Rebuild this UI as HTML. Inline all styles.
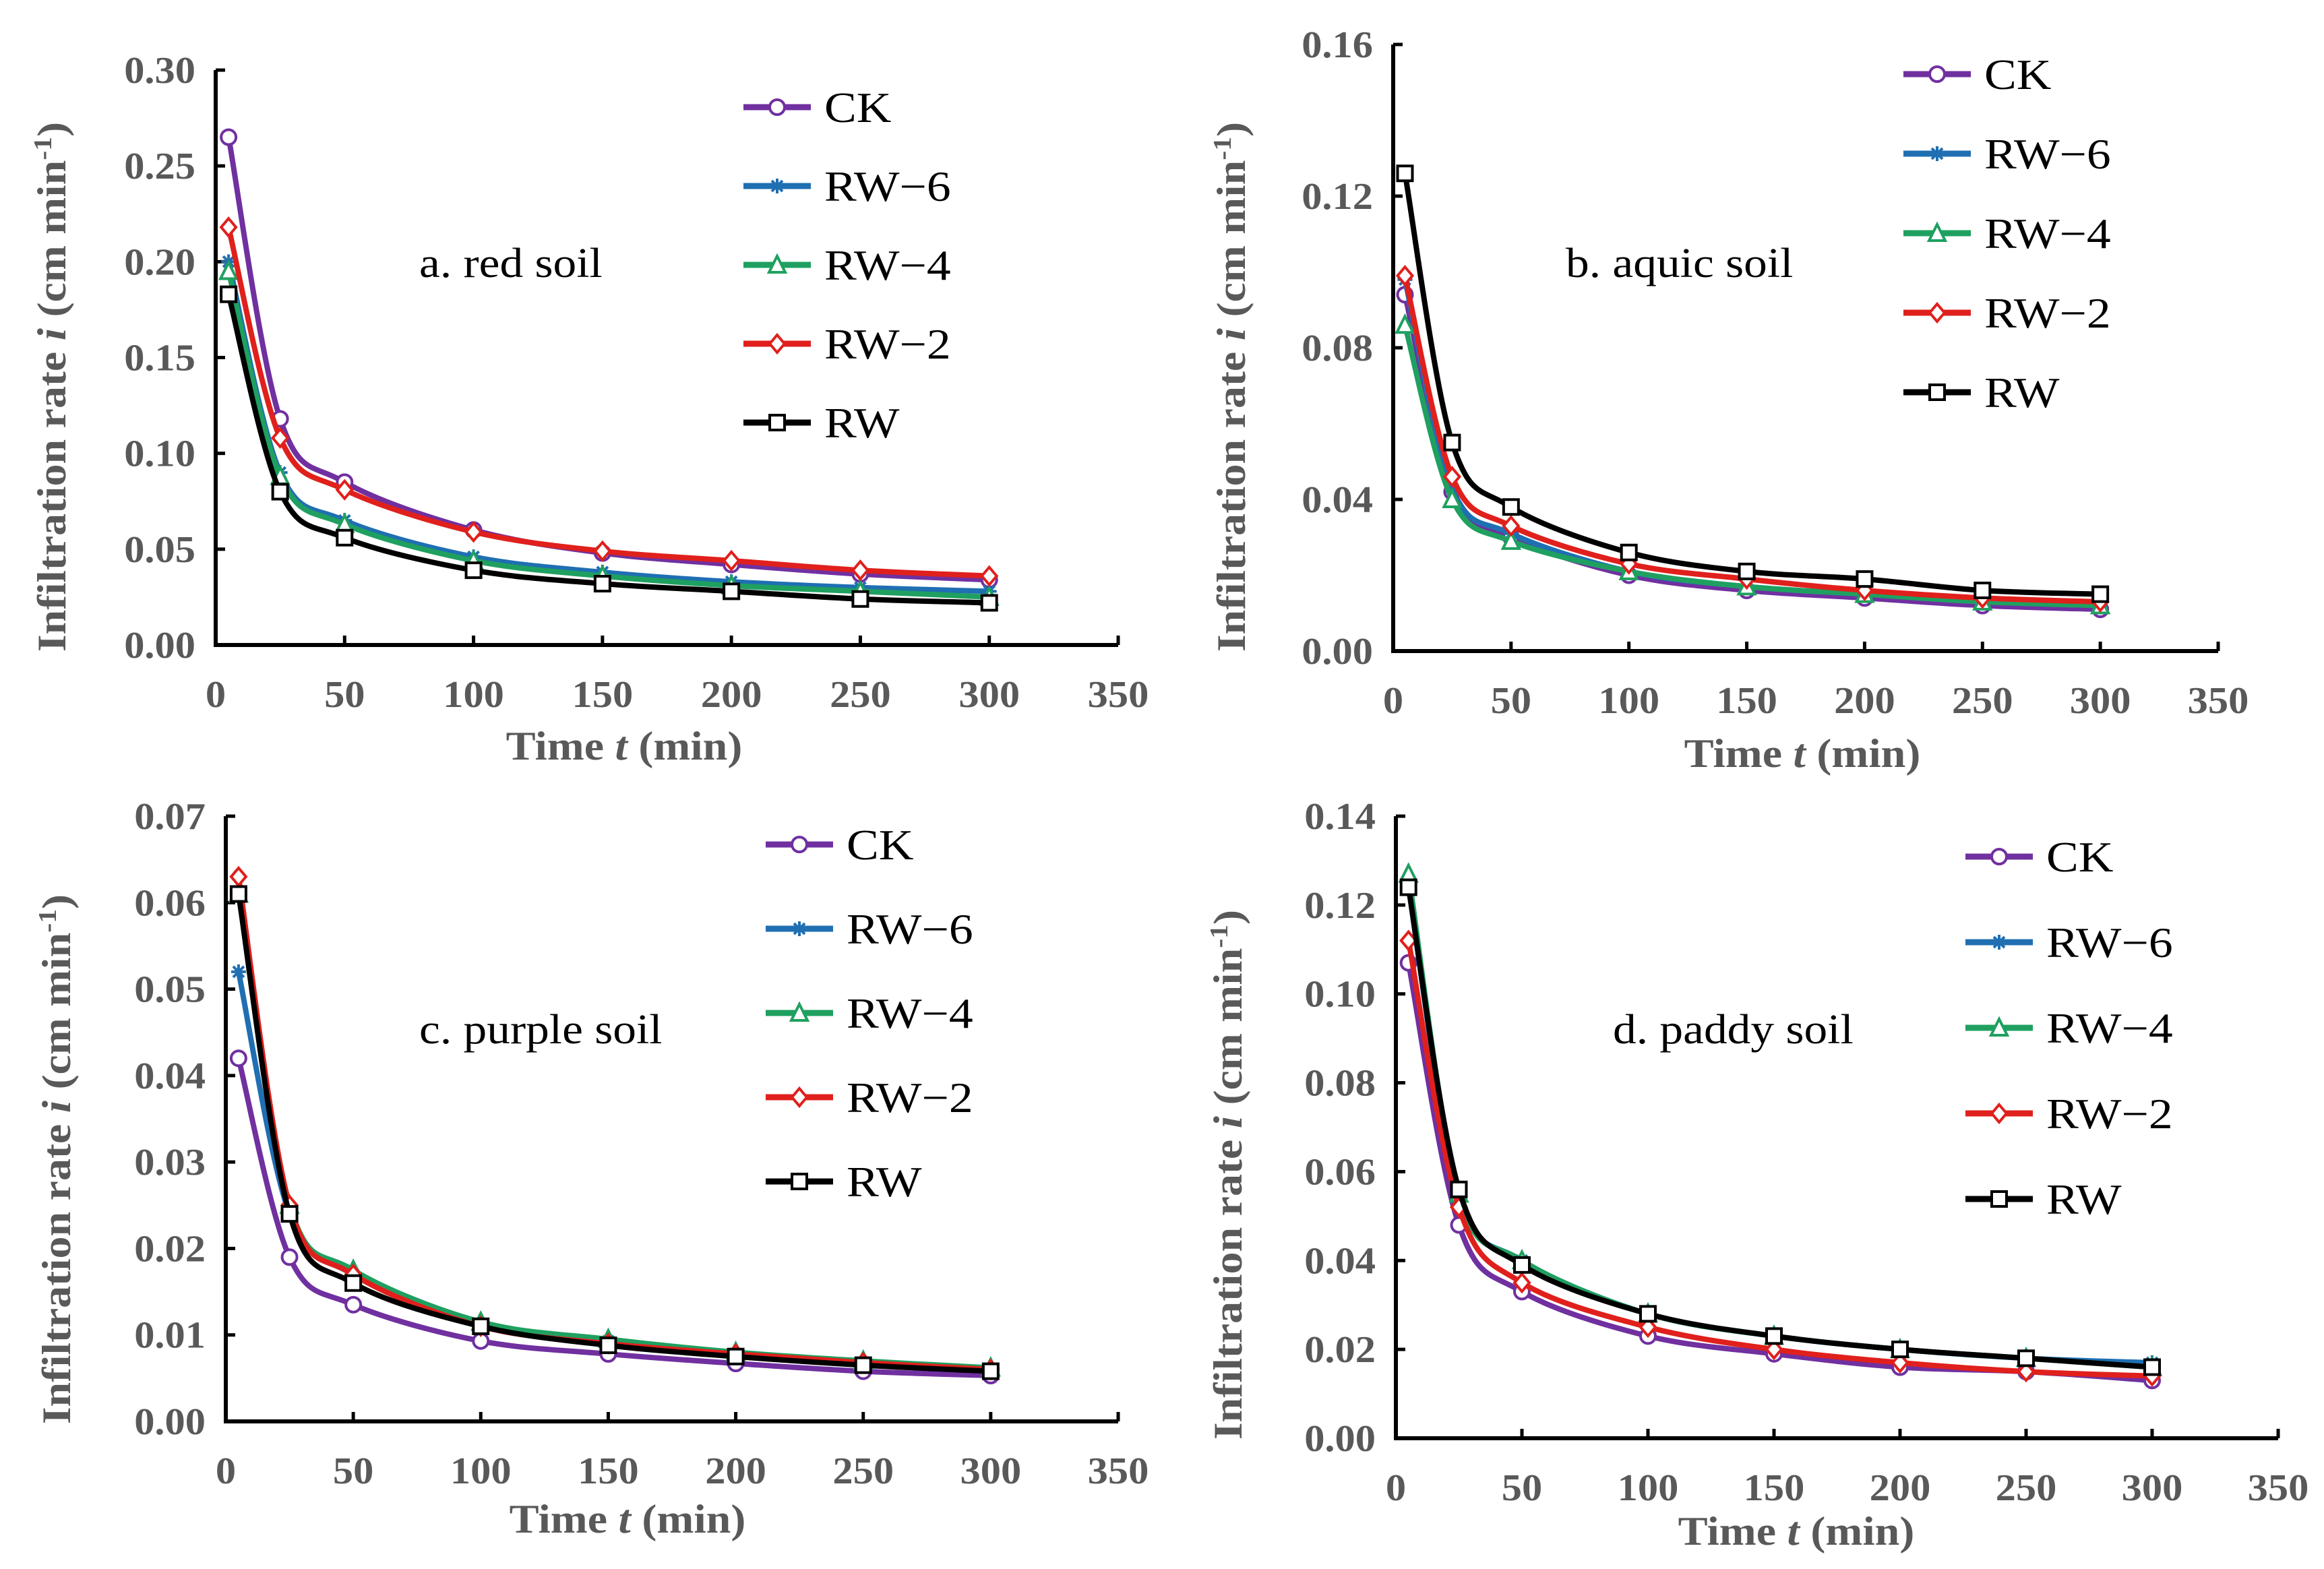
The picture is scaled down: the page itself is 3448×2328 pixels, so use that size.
<!DOCTYPE html>
<html><head><meta charset="utf-8"><style>
html,body{margin:0;padding:0;background:#fff;}
svg{display:block;}
</style></head><body>
<svg id="chart" width="3448" height="2328" viewBox="0 0 3448 2328" xmlns="http://www.w3.org/2000/svg"></svg>
<script>
const times = [5, 25, 50, 100, 150, 200, 250, 300];
const seriesNames = ["CK", "RW\u22126", "RW\u22124", "RW\u22122", "RW"];
const xTicks = [0, 50, 100, 150, 200, 250, 300, 350];
const ticksA = ["0.00","0.05","0.10","0.15","0.20","0.25","0.30"];
const ticksB = ["0.00","0.04","0.08","0.12","0.16"];
const ticksC = ["0.00","0.01","0.02","0.03","0.04","0.05","0.06","0.07"];
const ticksD = ["0.00","0.02","0.04","0.06","0.08","0.10","0.12","0.14"];
const redCK  = [.265,.118,.085,.060,.048,.042,.037,.034];
const redRW6 = [.200,.090,.065,.046,.038,.033,.030,.028];
const redRW4 = [.195,.088,.063,.044,.036,.031,.028,.025];
const redRW2 = [.218,.108,.081,.059,.049,.044,.039,.036];
const redRW  = [.183,.080,.056,.039,.032,.028,.024,.022];
const aqCK  = [.094,.042,.030,.020,.016,.014,.012,.011];
const aqRW6 = [.098,.043,.031,.021,.017,.015,.013,.012];
const aqRW4 = [.086,.040,.029,.021,.017,.015,.013,.012];
const aqRW2 = [.099,.046,.033,.023,.019,.016,.014,.013];
const aqRW  = [.126,.055,.038,.026,.021,.019,.016,.015];
const puCK  = [.042,.019,.0135,.0093,.0078,.0067,.0058,.0053];
const puRW6 = [.052,.024,.017,.011,.0093,.0078,.0068,.006];
const puRW4 = [.061,.025,.0175,.0115,.0095,.008,.007,.0062];
const puRW2 = [.063,.025,.017,.011,.009,.0078,.0068,.006];
const puRW  = [.061,.024,.016,.011,.0088,.0075,.0065,.0058];
const paCK  = [.107,.048,.033,.023,.019,.016,.015,.013];
const paRW6 = [.124,.055,.040,.028,.023,.020,.018,.017];
const paRW4 = [.127,.055,.040,.028,.023,.020,.018,.016];
const paRW2 = [.112,.052,.035,.025,.020,.017,.015,.014];
const paRW  = [.124,.056,.039,.028,.023,.020,.018,.016];

const colors = ["#7030a0","#1f6fb2","#1fa060","#e0201c","#000000"];
const markers = ["circle","star","tri","diamond","square"];
const NS = "http://www.w3.org/2000/svg";
const svg = document.getElementById("chart");
function el(tag, attrs, parent){const e=document.createElementNS(NS,tag);for(const k in attrs)e.setAttribute(k,attrs[k]);(parent||svg).appendChild(e);return e;}
const serif = '"Liberation Serif", serif';
function txt(parent,x,y,size,anchor,sx,bold,fill,rot){
  const tr = rot ? `translate(${x},${y}) rotate(-90) scale(${sx},1)` : `translate(${x},${y}) scale(${sx},1)`;
  return el("text",{x:0,y:0,transform:tr,"text-anchor":anchor,"font-family":serif,"font-weight":bold?"bold":"normal","font-size":size,fill:fill},parent);
}

const panels = [
 {id:"a", label:"a. red soil", x0:320, x350:1659, yTop:104, y0:957, ymax:0.30, ticks:ticksA, data:[redCK,redRW6,redRW4,redRW2,redRW],
  legX:1103, legY:159, legDy:117, annX:622, annY:390, ytX:77, ytY:574, xtX:926, xtY:1107},
 {id:"b", label:"b. aquic soil", x0:2067, x350:3291, yTop:66, y0:966, ymax:0.16, ticks:ticksB, data:[aqCK,aqRW6,aqRW4,aqRW2,aqRW],
  legX:2824, legY:110, legDy:118, annX:2323, annY:390, ytX:1827, ytY:574, xtX:2674, xtY:1118},
 {id:"c", label:"c. purple soil", x0:335, x350:1659, yTop:1211, y0:2109, ymax:0.07, ticks:ticksC, data:[puCK,puRW6,puRW4,puRW2,puRW],
  legX:1136, legY:1253, legDy:125, annX:622, annY:1527, ytX:84, ytY:1720, xtX:931, xtY:2254},
 {id:"d", label:"d. paddy soil", x0:2071, x350:3380, yTop:1211, y0:2134, ymax:0.14, ticks:ticksD, data:[paCK,paRW6,paRW4,paRW2,paRW],
  legX:2916, legY:1271, legDy:127, annX:2393, annY:1527, ytX:1822, ytY:1743, xtX:2665, xtY:2272}
];

function drawMarker(g, type, x, y, c){
  const r=11;
  let m;
  if(type==="circle") m=el("circle",{cx:x,cy:y,r:r,fill:"#fff",stroke:c,"stroke-width":4},g);
  else if(type==="square") m=el("rect",{x:x-r,y:y-r,width:2*r,height:2*r,fill:"#fff",stroke:c,"stroke-width":4},g);
  else if(type==="diamond") m=el("polygon",{points:`${x},${y-r-2} ${x+r},${y} ${x},${y+r+2} ${x-r},${y}`,fill:"#fff",stroke:c,"stroke-width":4},g);
  else if(type==="tri") m=el("polygon",{points:`${x},${y-r-2} ${x+r+1},${y+r} ${x-r-1},${y+r}`,fill:"#fff",stroke:c,"stroke-width":4},g);
  else { m=el("path",{d:`M${x-r},${y}H${x+r}M${x},${y-r}V${y+r}M${x-8},${y-8}L${x+8},${y+8}M${x-8},${y+8}L${x+8},${y-8}`,stroke:c,"stroke-width":4,fill:"none"},g); }
  return m;
}

function smoothPath(pts){
  let d=`M${pts[0][0]},${pts[0][1]}`;
  const t=1/6;
  for(let i=0;i<pts.length-1;i++){
    const p0=pts[i-1]||pts[i], p1=pts[i], p2=pts[i+1], p3=pts[i+2]||p2;
    const c1x=p1[0]+(p2[0]-p0[0])*t, c1y=p1[1]+(p2[1]-p0[1])*t;
    const c2x=p2[0]-(p3[0]-p1[0])*t, c2y=p2[1]-(p3[1]-p1[1])*t;
    d+=` C${c1x},${c1y} ${c2x},${c2y} ${p2[0]},${p2[1]}`;
  }
  return d;
}

panels.forEach(p=>{
  const g=el("g",{});
  
  
  const xs=v=>p.x0+(v/350)*(p.x350-p.x0);
  const ys=v=>p.y0-(v/p.ymax)*(p.y0-p.yTop);
  const ax=el("path",{d:`M${p.x0},${p.yTop}V${p.y0}H${p.x350}`,stroke:"#000","stroke-width":6,fill:"none"},g);
  
  
  xTicks.forEach(t=>{
    const x=xs(t);
    el("line",{x1:x,y1:p.y0,x2:x,y2:p.y0-14,stroke:"#000","stroke-width":5},g);
    const tx=txt(g,x,p.y0+92,56,"middle",1.08,true,"#595959");
    tx.textContent=t;
    
    
  });
  p.ticks.forEach(t=>{
    const y=ys(parseFloat(t));
    el("line",{x1:p.x0,y1:y,x2:p.x0+14,y2:y,stroke:"#000","stroke-width":5},g);
    const tx=txt(g,p.x0-30,y+19,56,"end",1.08,true,"#595959");
    tx.textContent=t;
    
    
  });
  const xt=txt(g,p.xtX,p.xtY+20,60,"middle",1.1,true,"#595959");
  xt.innerHTML='Time <tspan font-style="italic">t</tspan> (min)';
  
  
  const yt=txt(g,p.ytX+20,p.ytY,60,"middle",1.1,true,"#595959",true);
  yt.innerHTML='Infiltration rate <tspan font-style="italic">i</tspan> (cm min<tspan baseline-shift="super" font-size="38">-1</tspan>)';
  
  
  const an=txt(g,p.annX,p.annY+21,62,"start",1.12,false,"#000");
  an.textContent=p.label;
  
  
  p.data.forEach((vals,si)=>{
    const sg=el("g",{},g);
    
    
    const pts=vals.map((v,i)=>[xs(times[i]),ys(v)]);
    el("path",{d:smoothPath(pts),stroke:colors[si],"stroke-width":8,fill:"none"},sg);
    pts.forEach(pt=>{
      const m=drawMarker(sg,markers[si],pt[0],pt[1],colors[si]);
      
      
    });
  });
  seriesNames.forEach((n,si)=>{
    const y=p.legY+si*p.legDy;
    const lg=el("g",{},g);
    
    
    el("line",{x1:p.legX,y1:y,x2:p.legX+100,y2:y,stroke:colors[si],"stroke-width":9},lg);
    drawMarker(lg,markers[si],p.legX+50,y,colors[si]);
    const t=txt(lg,p.legX+120,y+22,64,"start",1.12,false,"#000");
    t.textContent=n;
  });
});
</script>
</body></html>
